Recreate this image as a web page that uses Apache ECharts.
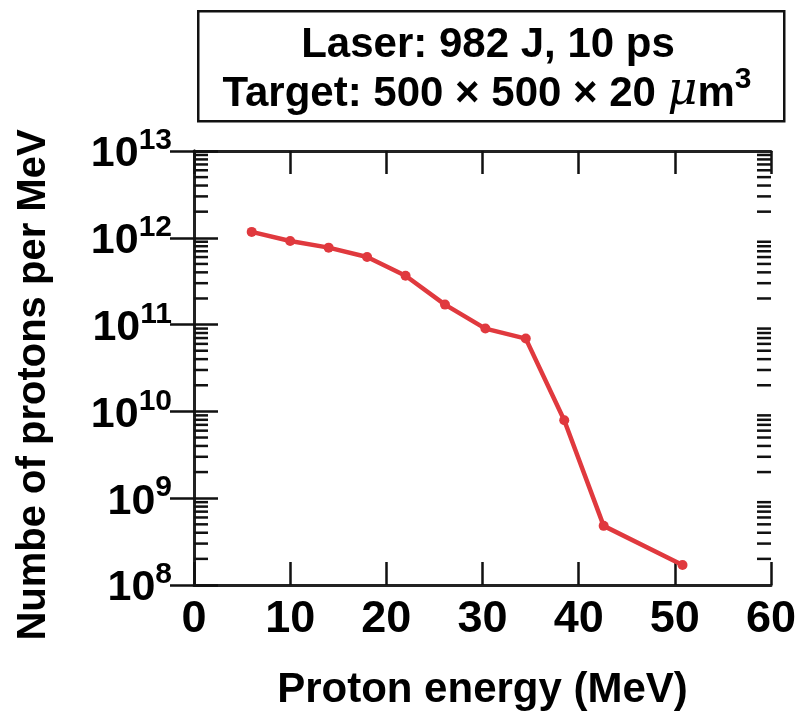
<!DOCTYPE html>
<html><head><meta charset="utf-8">
<script src="https://cdn.jsdelivr.net/npm/echarts@6/dist/echarts.min.js"></script>
<style>html,body{margin:0;padding:0;background:#fff}#c{width:807px;height:711px}</style>
</head><body><div id="c"></div>
<script>
const energy = [6, 10, 14, 18, 22, 26.1, 30.3, 34.5, 38.5, 42.6, 50.8];
const protons = [1.17e12, 9.2e11, 7.7e11, 6.0e11, 3.66e11, 1.7e11, 9.0e10, 6.9e10, 7.9e9, 4.8e8, 1.7e8];
const xTicks = [0, 10, 20, 30, 40, 50, 60];
const yDecades = [8, 9, 10, 11, 12, 13];
const titleLine1 = 'Laser: 982 J, 10 ps';
const xName = 'Proton energy (MeV)';
const yName = 'Numbe of protons per MeV';

const FONT = '"Liberation Sans", Arial, sans-serif';
const RED = '#e0393e';
const chart = echarts.init(document.getElementById('c'), null, {renderer: 'canvas'});

const minorVals = [];
for (let i = 0; i < yDecades.length - 1; i++) {
  for (let k = 2; k <= 9; k++) minorVals.push([k * Math.pow(10, yDecades[i])]);
}

const axisCommon = {
  axisLine: {show: true, lineStyle: {color: '#222', width: 3}},
  splitLine: {show: false}
};

chart.setOption({
  animation: false,
  grid: {left: 194, right: 36, top: 151, bottom: 126, containLabel: false, outerBoundsMode: 'none'},
  xAxis: [
    Object.assign({
      type: 'value', min: xTicks[0], max: xTicks[xTicks.length - 1], interval: 10,
      axisTick: {show: true, inside: true, length: 23, lineStyle: {color: '#111', width: 2.5}},
      axisLabel: {show: true, fontFamily: FONT, fontWeight: 'bold', fontSize: 45, color: '#000', margin: 12},
      name: xName, nameLocation: 'middle', nameGap: 84,
      nameTextStyle: {fontFamily: FONT, fontWeight: 'bold', fontSize: 42, color: '#000'}
    }, axisCommon),
    Object.assign({
      type: 'value', min: xTicks[0], max: xTicks[xTicks.length - 1], interval: 10, position: 'top',
      axisTick: {show: true, inside: true, length: 23, lineStyle: {color: '#111', width: 2.5}},
      axisLabel: {show: false}
    }, axisCommon)
  ],
  yAxis: [
    Object.assign({
      type: 'log', logBase: 10, min: Math.pow(10, yDecades[0]), max: Math.pow(10, yDecades[yDecades.length - 1]),
      axisTick: {show: true, inside: true, length: 24, lineStyle: {color: '#111', width: 2.5}},
      axisLabel: {
        show: true, margin: 22,
        formatter: v => '{b|10}{s|' + Math.round(Math.log10(v)) + '}',
        rich: {
          b: {fontFamily: FONT, fontWeight: 'bold', fontSize: 43, color: '#000', lineHeight: 50, verticalAlign: 'bottom', padding: [14, 0, 0, 0]},
          s: {fontFamily: FONT, fontWeight: 'bold', fontSize: 30, color: '#000', lineHeight: 50, verticalAlign: 'top', padding: [0, 0, 16, 0]}
        }
      },
      name: yName, nameLocation: 'middle', nameGap: 140, nameRotate: 90,
      nameTextStyle: {fontFamily: FONT, fontWeight: 'bold', fontSize: 40, color: '#000', padding: [0, 34, 0, 0]}
    }, axisCommon),
    Object.assign({
      type: 'log', logBase: 10, min: Math.pow(10, yDecades[0]), max: Math.pow(10, yDecades[yDecades.length - 1]), position: 'right',
      axisTick: {show: true, inside: true, length: 24, lineStyle: {color: '#111', width: 2.5}},
      axisLabel: {show: false}
    }, axisCommon)
  ],
  graphic: [
    {type: 'rect', left: 197, top: 10, shape: {width: 586, height: 110}, style: {fill: '#fff', stroke: '#111', lineWidth: 2.5}, z: 10},
    {type: 'text', x: 488, y: 24, z: 11, style: {
      text: titleLine1, font: 'bold 42px ' + FONT, fill: '#000', align: 'center', verticalAlign: 'top'}},
    {type: 'text', x: 487, y: 65, z: 11, style: {
      align: 'center', verticalAlign: 'top',
      text: '{a|Target: 500 × 500 × 20 }{mu|μ}{a|m}{sup|3}',
      rich: {
        a: {font: 'bold 42px ' + FONT, fill: '#000', lineHeight: 50, verticalAlign: 'bottom'},
        mu: {font: 'italic 46px "DejaVu Serif", serif', fill: '#000', lineHeight: 50, verticalAlign: 'bottom'},
        sup: {font: 'bold 30px ' + FONT, fill: '#000', lineHeight: 50, verticalAlign: 'top'}
      }
    }}
  ],
  series: [
    {
      type: 'line', data: energy.map((e, i) => [e, protons[i]]),
      xAxisIndex: 0, yAxisIndex: 0,
      smooth: false,
      lineStyle: {color: RED, width: 4.5},
      itemStyle: {color: RED},
      symbol: 'circle', symbolSize: 10, z: 5
    },
    {
      type: 'custom', xAxisIndex: 0, yAxisIndex: 0, data: minorVals, silent: true, z: 3,
      renderItem: (params, api) => {
        const v = api.value(0);
        const l = api.coord([0, v]);
        const r = api.coord([60, v]);
        const st = {stroke: '#111', lineWidth: 2.5};
        return {type: 'group', children: [
          {type: 'line', shape: {x1: l[0], y1: l[1], x2: l[0] + 14, y2: l[1]}, style: st},
          {type: 'line', shape: {x1: r[0] - 14, y1: r[1], x2: r[0], y2: r[1]}, style: st}
        ]};
      }
    }
  ]
});
</script></body></html>
